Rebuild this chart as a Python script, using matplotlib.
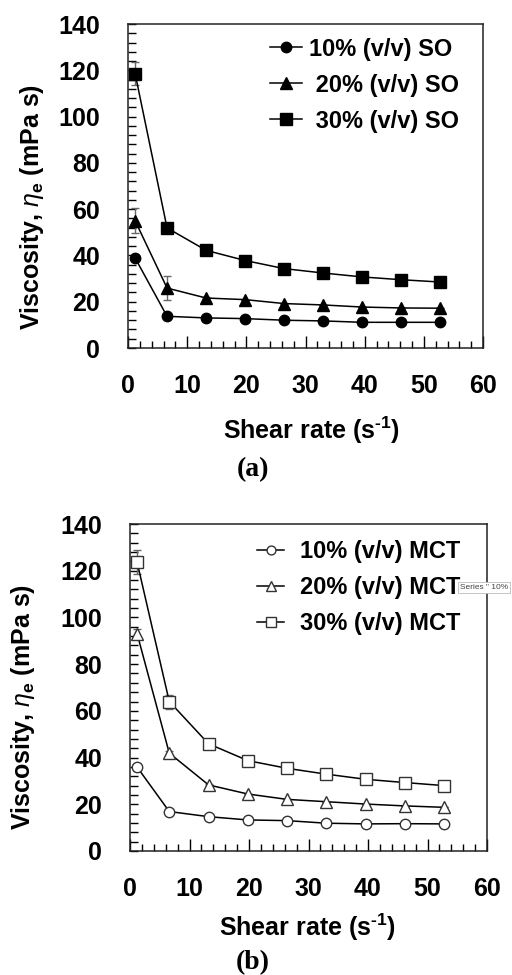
import matplotlib
matplotlib.use('Agg')
import matplotlib.pyplot as plt
from matplotlib.ticker import MultipleLocator

# shear rate (1/s)
shear = [1.2, 6.6, 13.2, 19.8, 26.4, 33.0, 39.6, 46.2, 52.8]

# (a) sunflower oil emulsions
so_10 = [38.9, 13.7, 13.0, 12.7, 12.0, 11.7, 11.1, 11.1, 11.1]
so_20 = [55.0, 25.9, 21.6, 20.9, 19.2, 18.6, 17.7, 17.3, 17.2]
so_30 = [118.6, 51.9, 42.2, 37.8, 34.3, 32.4, 30.7, 29.5, 28.5]
so_10_err = [1.5, 0.5, 0, 0, 0, 0, 0, 0, 0]
so_20_err = [5.4, 5.0, 0.5, 0, 0, 0, 0, 0, 0]
so_30_err = [5.0, 0.8, 0.5, 0, 0, 0, 0, 0, 0]

# (b) MCT emulsions
mct_10 = [35.9, 16.9, 14.7, 13.3, 13.0, 11.9, 11.6, 11.7, 11.6]
mct_20 = [93.0, 41.9, 28.3, 24.4, 22.1, 21.1, 20.1, 19.3, 18.7]
mct_30 = [123.6, 64.0, 45.9, 38.7, 35.4, 32.9, 30.7, 29.3, 28.0]
mct_10_err = [1.5, 0.5, 0, 0, 0, 0, 0, 0, 0]
mct_20_err = [2.0, 1.0, 0.5, 0, 0, 0, 0, 0, 0]
mct_30_err = [5.2, 3.0, 0.5, 0, 0, 0, 0, 0, 0]

labels_a = ['10% (v/v) SO', ' 20% (v/v) SO', ' 30% (v/v) SO']
labels_b = ['10% (v/v) MCT', '20% (v/v) MCT', '30% (v/v) MCT']
markers = ['o', '^', 's']

plt.rcParams['font.family'] = ['Liberation Sans', 'DejaVu Sans']
plt.rcParams['mathtext.fontset'] = 'custom'
plt.rcParams['mathtext.rm'] = 'Liberation Sans:bold'
plt.rcParams['mathtext.it'] = 'Liberation Sans:italic'

W, H = 512, 975
fig = plt.figure(figsize=(W / 100, H / 100), dpi=100)


def make_axes(l, r, t, b):
    return fig.add_axes([l / W, 1 - b / H, (r - l) / W, (b - t) / H])


def style(ax, ylab_xy, xlab_xy):
    ax.set_xlim(0, 60)
    ax.set_ylim(0, 140)
    ax.xaxis.set_major_locator(MultipleLocator(10))
    ax.xaxis.set_minor_locator(MultipleLocator(2))
    ax.yaxis.set_major_locator(MultipleLocator(20))
    ax.yaxis.set_minor_locator(MultipleLocator(4))
    ax.tick_params(axis='x', which='major', direction='in', length=9, width=1, pad=19, labelsize=18)
    ax.tick_params(axis='x', which='minor', direction='in', length=5, width=1)
    ax.tick_params(axis='y', which='major', direction='in', length=6, width=1, pad=20, labelsize=18)
    ax.tick_params(axis='y', which='minor', direction='in', length=6, width=1)
    for lab in ax.get_xticklabels() + ax.get_yticklabels():
        lab.set_fontweight('bold')
    for sp in ax.spines.values():
        sp.set_linewidth(1.1)
        sp.set_color('#222222')
    ax.set_ylabel(r'Viscosity, $\eta_\mathregular{e}$ (mPa s)', fontsize=18, fontweight='bold')
    ax.set_xlabel('Shear rate (s$^\\mathregular{\u20101}$)', fontsize=18, fontweight='bold')
    ax.yaxis.set_label_coords(*ylab_xy)
    ax.xaxis.set_label_coords(*xlab_xy)
    ax.yaxis.label.set_va('center')
    ax.xaxis.label.set_va('center')


def draw(ax, series, errs, labels, filled):
    for y, e, m, lab in zip(series, errs, markers, labels):
        ax.errorbar(shear, y, yerr=e, color='black', ecolor='#666666', elinewidth=1,
                    capsize=3, capthick=1, lw=1.1, marker=m, ms=8 if m != 'o' else 7.5,
                    mfc='black' if filled else 'white', mec='black' if filled else '#333333',
                    mew=1, label=lab, zorder=3)


def add_legend(ax, anchor, ms, hl, tp):
    h, l = ax.get_legend_handles_labels()
    leg = ax.legend([x[0] for x in h], l, loc='upper left', bbox_to_anchor=anchor, frameon=False,
                    borderpad=0, borderaxespad=0, handlelength=hl, handletextpad=tp,
                    labelspacing=0.55, markerscale=ms,
                    prop={'weight': 'bold', 'size': 17})
    return leg


ax1 = make_axes(128, 483, 24, 348)
draw(ax1, [so_10, so_20, so_30], [so_10_err, so_20_err, so_30_err], labels_a, True)
style(ax1, (-0.27, 0.435), (0.518, -0.253))
add_legend(ax1, (0.40, 0.958), 1.0, 1.35, 0.3)
fig.text(253 / W, 1 - 470 / H, '(a)', family='Liberation Serif', weight='bold', fontsize=20,
         ha='center', va='center')

ax2 = make_axes(130, 487, 524, 851)
draw(ax2, [mct_10, mct_20, mct_30], [mct_10_err, mct_20_err, mct_30_err], labels_b, False)
style(ax2, (-0.30, 0.44), (0.496, -0.232))
add_legend(ax2, (0.356, 0.95), 0.85, 1.15, 0.68)
fig.text(253 / W, 1 - 963 / H, '(b)', family='Liberation Serif', weight='bold', fontsize=20,
         ha='center', va='center')

# tooltip left over in the screenshot
fig.text(460 / W, 1 - 587.5 / H, 'Series " 10%', fontsize=6, color='#444444', ha='left', va='center',
         bbox=dict(facecolor='white', edgecolor='#bbbbbb', pad=1.5, lw=0.6), zorder=10)

fig.savefig('out.png', dpi=100)
